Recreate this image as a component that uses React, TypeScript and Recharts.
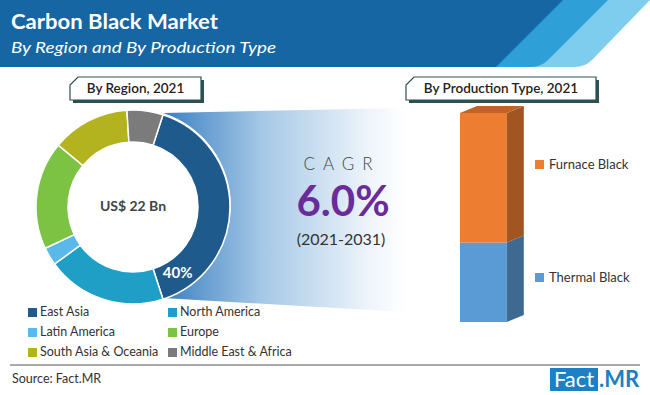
import { Bar, BarChart, Cell, Pie, PieChart, XAxis, YAxis } from "recharts";

const regions = [
  "East Asia",
  "North America",
  "Latin America",
  "Europe",
  "South Asia & Oceania",
  "Middle East & Africa",
];
const regionShares = [40, 20, 3, 18, 13, 6];
const regionColors = ["#1f5a8c", "#1f9fc6", "#5ab9e8", "#7cc243", "#b3b21f", "#7b7b7b"];

const productionTypes = ["Furnace Black", "Thermal Black"];
const furnaceShare = [62];
const thermalShare = [38];
const productionColors = ["#ed7d31", "#5b9bd5"];
const years = ["2021"];

const regionData = regions.map((name, i) => ({ name, value: regionShares[i] }));
const productionData = years.map((year, i) => ({
  year,
  furnace: furnaceShare[i],
  thermal: thermalShare[i],
}));

const FONT = "Lato, 'Noto Sans', sans-serif";
const DX = 17;
const DY = 7;

function shade(hex: string, f: number) {
  const n = parseInt(hex.slice(1), 16);
  const r = Math.round(((n >> 16) & 255) * f);
  const g = Math.round(((n >> 8) & 255) * f);
  const b = Math.round((n & 255) * f);
  return `rgb(${r},${g},${b})`;
}

function Bar3D(props: any) {
  const { x, y, width, height, fill, withTop } = props;
  const side = shade(fill, 0.68);
  const top = shade(fill, 0.8);
  return (
    <g>
      <rect x={x} y={y} width={width} height={height} fill={fill} />
      <polygon
        points={`${x + width},${y} ${x + width + DX},${y - DY} ${x + width + DX},${y + height - DY} ${x + width},${y + height}`}
        fill={side}
      />
      {withTop && (
        <polygon
          points={`${x},${y} ${x + DX},${y - DY} ${x + width + DX},${y - DY} ${x + width},${y}`}
          fill={top}
        />
      )}
    </g>
  );
}

function TagBox({ x, y, w, h, text }: { x: number; y: number; w: number; h: number; text: string }) {
  const path = (ox: number, oy: number) =>
    `M${x + ox},${y + h + oy} L${x + ox},${y + 8 + oy} L${x + 8 + ox},${y + oy} L${x + w + ox},${y + oy} L${x + w + ox},${y + h + oy} Z`;
  return (
    <g>
      <path d={path(3, 3)} fill="#2c5151" />
      <path d={path(0, 0)} fill="#fff" stroke="#2c5151" strokeWidth={1.2} />
      <text
        x={x + w / 2}
        y={y + h / 2 + 1}
        textAnchor="middle"
        dominantBaseline="middle"
        fontSize={13.5}
        fontWeight={600}
        fill="#222"
        fontFamily={FONT}
      >
        {text}
      </text>
    </g>
  );
}

function FortyLabel(props: any) {
  const { cx, cy, innerRadius, outerRadius, endAngle, index, percent } = props;
  if (index !== 0) return null;
  const r = (innerRadius + outerRadius) / 2;
  const a = ((endAngle + 15.5) * Math.PI) / 180;
  return (
    <text
      x={cx + r * Math.cos(a)}
      y={cy - r * Math.sin(a)}
      textAnchor="middle"
      dominantBaseline="middle"
      fill="#fff"
      fontSize={15}
      fontWeight={700}
      fontFamily={FONT}
    >
      {`${Math.round(percent * 100)}%`}
    </text>
  );
}

export default function App() {
  return (
    <div style={{ position: "relative", width: 650, height: 395, background: "#fff", fontFamily: FONT, overflow: "hidden" }}>
      <style>{`body{margin:0}`}</style>

      {/* header + backdrop shapes */}
      <svg width={650} height={395} style={{ position: "absolute", left: 0, top: 0 }}>
        <defs>
          <linearGradient id="cagrFade" x1="0" y1="0" x2="1" y2="0">
            <stop offset="0%" stopColor="#3a7fc0" />
            <stop offset="40%" stopColor="#a3c7e6" />
            <stop offset="85%" stopColor="#eef4fa" />
            <stop offset="100%" stopColor="#ffffff" />
          </linearGradient>
        </defs>
        <path d="M0,0 L650,0 L592,60 Q585,67 575,67 L0,67 Z" fill="#7fcdee" />
        <path d="M0,0 L608,0 L548,60 Q541,67 531,67 L0,67 Z" fill="#2f9fd8" />
        <path d="M0,0 L563,0 L496,67 L0,67 Z" fill="#1666a4" />
        <text x={11} y={29} fill="#fff" fontSize={21.5} fontWeight={700} fontFamily={FONT} textLength={207} lengthAdjust="spacingAndGlyphs">
          Carbon Black Market
        </text>
        <text x={11} y={53} fill="#fff" fontSize={16} fontStyle="italic" fontFamily={FONT} textLength={265} lengthAdjust="spacingAndGlyphs">
          By Region and By Production Type
        </text>

        <path d="M163,113 L405,108 L405,312 L163,298 A97,97 0 0 0 163,113 Z" fill="url(#cagrFade)" />

        <TagBox x={70} y={77} w={131} h={23} text="By Region, 2021" />
        <TagBox x={406} y={77} w={190} h={23} text="By Production Type, 2021" />

        <text x={342} y={166} textAnchor="middle" dominantBaseline="middle" fontSize={17} fontWeight={300} letterSpacing={8} fill="#444" fontFamily={FONT}>
          CAGR
        </text>
        <text x={343} y={216} textAnchor="middle" fontSize={42} fontWeight={700} fill="#6a2c9a" fontFamily={FONT}>
          6.0%
        </text>
        <text x={341} y={241} textAnchor="middle" dominantBaseline="middle" fontSize={16} fill="#333" fontFamily={FONT}>
          (2021-2031)
        </text>

        <line x1={10} y1={365} x2={640} y2={365} stroke="#555" strokeWidth={1} />
        <text x={12} y={383} fontSize={12.5} fill="#333" fontFamily={FONT}>
          Source: Fact.MR
        </text>
        <rect x={550} y={368} width={48} height={23} fill="#1c80c4" />
        <text x={574} y={387} textAnchor="middle" fontSize={22} fill="#fff" fontFamily="'Liberation Sans Narrow', Lato, sans-serif">
          Fact
        </text>
        <text x={599} y={387} fontSize={22} fontWeight={700} fill="#1c80c4" fontFamily="'Liberation Sans Narrow', Lato, sans-serif">
          .MR
        </text>
      </svg>

      {/* donut */}
      <div style={{ position: "absolute", left: 0, top: 100 }}>
        <PieChart width={270} height={215} margin={{ top: 0, right: 0, bottom: 0, left: 0 }}>
          <Pie
            data={regionData}
            dataKey="value"
            nameKey="name"
            cx={133}
            cy={107}
            innerRadius={65}
            outerRadius={97}
            startAngle={72}
            endAngle={-288}
            stroke="#fff"
            strokeWidth={1.5}
            label={FortyLabel}
            labelLine={false}
            isAnimationActive={false}
          >
            {regionData.map((d, i) => (
              <Cell key={d.name} fill={regionColors[i]} />
            ))}
          </Pie>
          <text x={133} y={107} textAnchor="middle" dominantBaseline="middle" fontSize={14} fontWeight={700} fill="#444" fontFamily={FONT}>
            US$ 22 Bn
          </text>
        </PieChart>
      </div>

      {/* region legend */}
      <div style={{ position: "absolute", left: 28, top: 304, width: 300 }}>
        {regions.map((name, i) => (
          <div
            key={name}
            style={{
              position: "absolute",
              left: (i % 2) * 140,
              top: Math.floor(i / 2) * 20,
              display: "flex",
              alignItems: "center",
              fontSize: 12.5,
              color: "#333",
              whiteSpace: "nowrap",
              lineHeight: "16px",
            }}
          >
            <span style={{ display: "inline-block", width: 9, height: 9, background: regionColors[i], marginRight: 3 }} />
            {name}
          </div>
        ))}
      </div>

      {/* stacked 3D bar */}
      <div style={{ position: "absolute", left: 440, top: 100 }}>
        <BarChart
          width={100}
          height={230}
          data={productionData}
          margin={{ top: 13, right: 31, bottom: 8, left: 17 }}
          barCategoryGap={0}
        >
          <XAxis dataKey="year" hide />
          <YAxis hide domain={[0, 100]} />
          <Bar
            dataKey="thermal"
            stackId="p"
            fill={productionColors[1]}
            barSize={52}
            shape={(p: any) => <Bar3D {...p} fill={productionColors[1]} />}
            isAnimationActive={false}
          />
          <Bar
            dataKey="furnace"
            stackId="p"
            fill={productionColors[0]}
            barSize={52}
            shape={(p: any) => <Bar3D {...p} fill={productionColors[0]} withTop />}
            isAnimationActive={false}
          />
        </BarChart>
      </div>

      {/* production legend */}
      {productionTypes.map((name, i) => (
        <div
          key={name}
          style={{
            position: "absolute",
            left: 535,
            top: i === 0 ? 156 : 269,
            display: "flex",
            alignItems: "center",
            fontSize: 13,
            color: "#333",
            lineHeight: "16px",
            whiteSpace: "nowrap",
          }}
        >
          <span style={{ display: "inline-block", width: 9, height: 9, background: productionColors[i], marginRight: 5 }} />
          {name}
        </div>
      ))}
    </div>
  );
}
